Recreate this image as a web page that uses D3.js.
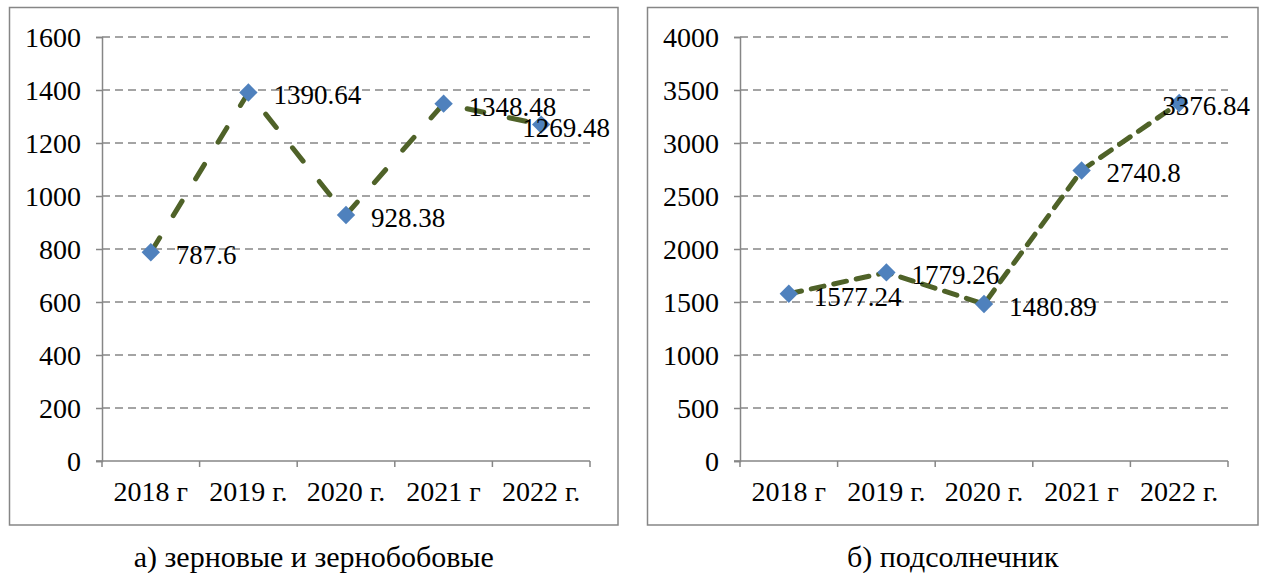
<!DOCTYPE html>
<html>
<head>
<meta charset="utf-8">
<script src="https://cdn.jsdelivr.net/npm/d3@7"></script>
<style>
  body { margin: 0; background: #fff; }
  text { font-family: "Liberation Serif", "Times New Roman", serif; fill: #000; }
</style>
</head>
<body>
<svg id="chart" width="1264" height="573"></svg>
<script>
const years = ["2018 г", "2019 г.", "2020 г.", "2021 г", "2022 г."];
const grainValues = [787.6, 1390.64, 928.38, 1348.48, 1269.48];
const sunflowerValues = [1577.24, 1779.26, 1480.89, 2740.8, 3376.84];
const grainTicks = [0, 200, 400, 600, 800, 1000, 1200, 1400, 1600];
const sunflowerTicks = [0, 500, 1000, 1500, 2000, 2500, 3000, 3500, 4000];
const captions = ["а) зерновые и зернобобовые", "б) подсолнечник"];

const SERIF = "Liberation Serif";
const TICK_FONT = 28;
const LABEL_FONT = 27;
const CAPTION_FONT = 30;
const GREY = "#868686";
const LINE_COLOR = "#4F6228";
const MARKER_COLOR = "#4F81BD";

const svg = d3.select("#chart");

// one panel = frame + axes + dashed line + labels
function drawPanel(opt) {
  const g = svg.append("g");

  g.append("rect")
    .attr("x", opt.frame[0]).attr("y", opt.frame[1])
    .attr("width", opt.frame[2] - opt.frame[0])
    .attr("height", opt.frame[3] - opt.frame[1])
    .attr("fill", "#fff")
    .attr("stroke", GREY).attr("stroke-width", 1.5);

  const x = d3.scaleBand().domain(years).range([opt.left, opt.right]);
  const y = d3.scaleLinear().domain([0, d3.max(opt.ticks)]).range([opt.bottom, opt.top]);

  // gridlines
  g.append("g")
    .selectAll("line")
    .data(opt.ticks.filter(d => d > 0))
    .join("line")
      .attr("x1", opt.left).attr("x2", opt.right)
      .attr("y1", d => y(d)).attr("y2", d => y(d))
      .attr("stroke", GREY).attr("stroke-width", 1.5)
      .attr("stroke-dasharray", "8,5");

  // y axis
  const yAxis = g.append("g")
    .attr("transform", `translate(${opt.left},0)`)
    .call(d3.axisLeft(y).tickValues(opt.ticks).tickSize(6).tickPadding(15).tickFormat(d3.format("d")));
  yAxis.attr("font-family", SERIF);
  yAxis.select(".domain").attr("stroke", GREY).attr("stroke-width", 1.5);
  yAxis.selectAll(".tick line").attr("stroke", GREY).attr("stroke-width", 1.5);
  yAxis.selectAll(".tick text")
    .attr("font-size", TICK_FONT).attr("font-family", SERIF).attr("fill", "#000")
    .attr("dy", "0.34em");

  // x axis: line, ticks at band edges, labels in band centres
  const xAxis = g.append("g")
    .attr("transform", `translate(0,${opt.bottom})`)
    .call(d3.axisBottom(x).tickSize(0).tickPadding(20));
  xAxis.attr("font-family", SERIF);
  xAxis.select(".domain").remove();
  xAxis.selectAll(".tick text")
    .attr("font-size", TICK_FONT).attr("font-family", SERIF).attr("fill", "#000");

  g.append("line")
    .attr("x1", opt.left - 6).attr("x2", opt.right)
    .attr("y1", opt.bottom).attr("y2", opt.bottom)
    .attr("stroke", GREY).attr("stroke-width", 1.5);

  g.append("g")
    .selectAll("line")
    .data(years.map(d => x(d)).concat([opt.right]))
    .join("line")
      .attr("x1", d => d).attr("x2", d => d)
      .attr("y1", opt.bottom).attr("y2", opt.bottom + 6)
      .attr("stroke", GREY).attr("stroke-width", 1.5);

  const cx = d => x(d) + x.bandwidth() / 2;
  const pts = years.map((d, i) => ({ year: d, value: opt.values[i] }));

  g.append("path")
    .datum(pts)
    .attr("fill", "none")
    .attr("stroke", LINE_COLOR)
    .attr("stroke-width", 5)
    .attr("stroke-linecap", "round")
    .attr("stroke-dasharray", opt.dash)
    .attr("d", d3.line().x(d => cx(d.year)).y(d => y(d.value)));

  g.append("g")
    .selectAll("rect")
    .data(pts)
    .join("rect")
      .attr("x", -6.5).attr("y", -6.5)
      .attr("width", 13).attr("height", 13)
      .attr("fill", MARKER_COLOR)
      .attr("transform", d => `translate(${cx(d.year)},${y(d.value)}) rotate(45)`);

  // data labels to the right, pushed back inside the frame when needed
  g.append("g")
    .selectAll("text")
    .data(pts)
    .join("text")
      .attr("font-size", LABEL_FONT)
      .attr("font-family", SERIF)
      .attr("y", d => y(d.value) + 12)
      .text(d => d.value)
      .each(function (d) {
        const w = this.getComputedTextLength();
        const x0 = Math.min(cx(d.year) + 25, opt.frame[2] - 8 - w);
        d3.select(this).attr("x", x0);
      });

  svg.append("text")
    .attr("x", (opt.frame[0] + opt.frame[2]) / 2)
    .attr("y", 567)
    .attr("text-anchor", "middle")
    .attr("font-size", CAPTION_FONT)
    .attr("font-family", SERIF)
    .text(opt.caption);
}

drawPanel({
  frame: [9.5, 7.5, 618, 525],
  left: 102, right: 590, top: 37, bottom: 461,
  ticks: grainTicks, values: grainValues,
  dash: "17,26", caption: captions[0]
});

drawPanel({
  frame: [647.5, 7.5, 1258, 525],
  left: 740, right: 1228, top: 37, bottom: 461,
  ticks: sunflowerTicks, values: sunflowerValues,
  dash: "13,10", caption: captions[1]
});
</script>
</body>
</html>
